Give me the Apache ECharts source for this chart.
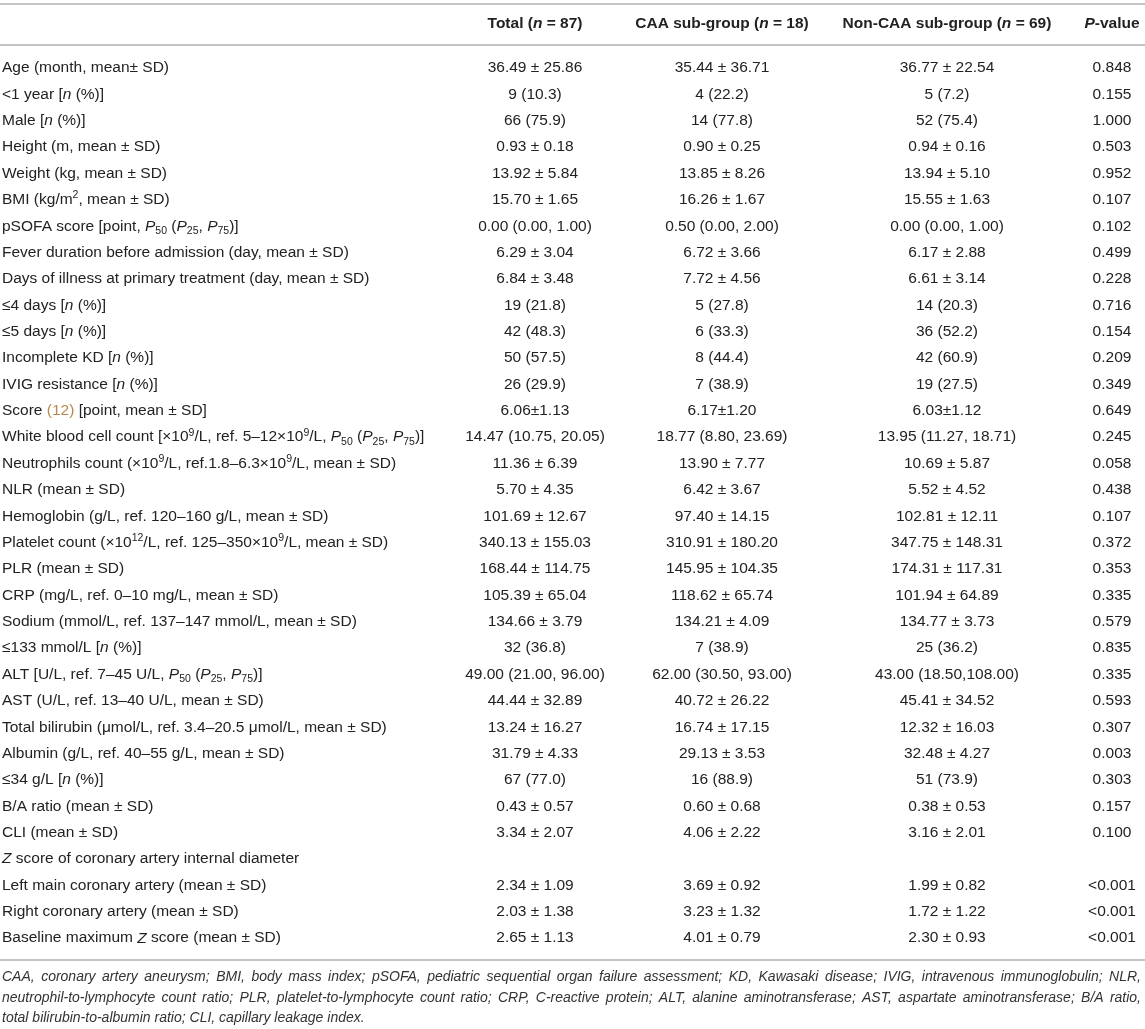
<!DOCTYPE html>
<html lang="en">
<head>
  <meta charset="UTF-8">
  <title>Baseline characteristics, CAA vs non-CAA</title>
  <style>
    html, body { margin: 0; padding: 0; background: #fff; }
    #main { width: 1145px; height: 1029px; }
  </style>
</head>
<body>
  <div id="main"></div>
  <script src="https://cdn.jsdelivr.net/npm/echarts@6/dist/echarts.min.js"></script>
  <script>
    // ---- table content (rich tags: {i|..} italic, {sup|..}, {sub|..}, {ref|..}) ----
    const headers = ['', 'Total ({i|n} = 87)', 'CAA sub-group ({i|n} = 18)', 'Non-CAA sub-group ({i|n} = 69)', '{i|P}-value']

    const rowLabels = [
      'Age (month, mean\u00b1 SD)',
      '<1 year [{i|n} (%)]',
      'Male [{i|n} (%)]',
      'Height (m, mean \u00b1 SD)',
      'Weight (kg, mean \u00b1 SD)',
      'BMI (kg/m{sup|2}, mean \u00b1 SD)',
      'pSOFA score [point, {i|P}{sub|50} ({i|P}{sub|25}, {i|P}{sub|75})]',
      'Fever duration before admission (day, mean \u00b1 SD)',
      'Days of illness at primary treatment (day, mean \u00b1 SD)',
      '\u22644 days [{i|n} (%)]',
      '\u22645 days [{i|n} (%)]',
      'Incomplete KD [{i|n} (%)]',
      'IVIG resistance [{i|n} (%)]',
      'Score {ref|(12)} [point, mean \u00b1 SD]',
      'White blood cell count [\u00d710{sup|9}/L, ref. 5\u201312\u00d710{sup|9}/L, {i|P}{sub|50} ({i|P}{sub|25}, {i|P}{sub|75})]',
      'Neutrophils count (\u00d710{sup|9}/L, ref.1.8\u20136.3\u00d710{sup|9}/L, mean \u00b1 SD)',
      'NLR (mean \u00b1 SD)',
      'Hemoglobin (g/L, ref. 120\u2013160 g/L, mean \u00b1 SD)',
      'Platelet count (\u00d710{sup|12}/L, ref. 125\u2013350\u00d710{sup|9}/L, mean \u00b1 SD)',
      'PLR (mean \u00b1 SD)',
      'CRP (mg/L, ref. 0\u201310 mg/L, mean \u00b1 SD)',
      'Sodium (mmol/L, ref. 137\u2013147 mmol/L, mean \u00b1 SD)',
      '\u2264133 mmol/L [{i|n} (%)]',
      'ALT [U/L, ref. 7\u201345 U/L, {i|P}{sub|50} ({i|P}{sub|25}, {i|P}{sub|75})]',
      'AST (U/L, ref. 13\u201340 U/L, mean \u00b1 SD)',
      'Total bilirubin (\u03bcmol/L, ref. 3.4\u201320.5 \u03bcmol/L, mean \u00b1 SD)',
      'Albumin (g/L, ref. 40\u201355 g/L, mean \u00b1 SD)',
      '\u226434 g/L [{i|n} (%)]',
      'B/A ratio (mean \u00b1 SD)',
      'CLI (mean \u00b1 SD)',
      '{i|Z} score of coronary artery internal diameter',
      'Left main coronary artery (mean \u00b1 SD)',
      'Right coronary artery (mean \u00b1 SD)',
      'Baseline maximum {i|Z} score (mean \u00b1 SD)'
    ]

    const totalCol = [
      '36.49 \u00b1 25.86', '9 (10.3)', '66 (75.9)', '0.93 \u00b1 0.18', '13.92 \u00b1 5.84',
      '15.70 \u00b1 1.65', '0.00 (0.00, 1.00)', '6.29 \u00b1 3.04', '6.84 \u00b1 3.48', '19 (21.8)',
      '42 (48.3)', '50 (57.5)', '26 (29.9)', '6.06\u00b11.13', '14.47 (10.75, 20.05)',
      '11.36 \u00b1 6.39', '5.70 \u00b1 4.35', '101.69 \u00b1 12.67', '340.13 \u00b1 155.03', '168.44 \u00b1 114.75',
      '105.39 \u00b1 65.04', '134.66 \u00b1 3.79', '32 (36.8)', '49.00 (21.00, 96.00)', '44.44 \u00b1 32.89',
      '13.24 \u00b1 16.27', '31.79 \u00b1 4.33', '67 (77.0)', '0.43 \u00b1 0.57', '3.34 \u00b1 2.07',
      '', '2.34 \u00b1 1.09', '2.03 \u00b1 1.38', '2.65 \u00b1 1.13'
    ]

    const caaCol = [
      '35.44 \u00b1 36.71', '4 (22.2)', '14 (77.8)', '0.90 \u00b1 0.25', '13.85 \u00b1 8.26',
      '16.26 \u00b1 1.67', '0.50 (0.00, 2.00)', '6.72 \u00b1 3.66', '7.72 \u00b1 4.56', '5 (27.8)',
      '6 (33.3)', '8 (44.4)', '7 (38.9)', '6.17\u00b11.20', '18.77 (8.80, 23.69)',
      '13.90 \u00b1 7.77', '6.42 \u00b1 3.67', '97.40 \u00b1 14.15', '310.91 \u00b1 180.20', '145.95 \u00b1 104.35',
      '118.62 \u00b1 65.74', '134.21 \u00b1 4.09', '7 (38.9)', '62.00 (30.50, 93.00)', '40.72 \u00b1 26.22',
      '16.74 \u00b1 17.15', '29.13 \u00b1 3.53', '16 (88.9)', '0.60 \u00b1 0.68', '4.06 \u00b1 2.22',
      '', '3.69 \u00b1 0.92', '3.23 \u00b1 1.32', '4.01 \u00b1 0.79'
    ]

    const nonCaaCol = [
      '36.77 \u00b1 22.54', '5 (7.2)', '52 (75.4)', '0.94 \u00b1 0.16', '13.94 \u00b1 5.10',
      '15.55 \u00b1 1.63', '0.00 (0.00, 1.00)', '6.17 \u00b1 2.88', '6.61 \u00b1 3.14', '14 (20.3)',
      '36 (52.2)', '42 (60.9)', '19 (27.5)', '6.03\u00b11.12', '13.95 (11.27, 18.71)',
      '10.69 \u00b1 5.87', '5.52 \u00b1 4.52', '102.81 \u00b1 12.11', '347.75 \u00b1 148.31', '174.31 \u00b1 117.31',
      '101.94 \u00b1 64.89', '134.77 \u00b1 3.73', '25 (36.2)', '43.00 (18.50,108.00)', '45.41 \u00b1 34.52',
      '12.32 \u00b1 16.03', '32.48 \u00b1 4.27', '51 (73.9)', '0.38 \u00b1 0.53', '3.16 \u00b1 2.01',
      '', '1.99 \u00b1 0.82', '1.72 \u00b1 1.22', '2.30 \u00b1 0.93'
    ]

    const pValues = [
      '0.848', '0.155', '1.000', '0.503', '0.952', '0.107', '0.102', '0.499', '0.228', '0.716',
      '0.154', '0.209', '0.349', '0.649', '0.245', '0.058', '0.438', '0.107', '0.372', '0.353',
      '0.335', '0.579', '0.835', '0.335', '0.593', '0.307', '0.003', '0.303', '0.157', '0.100',
      '', '<0.001', '<0.001', '<0.001'
    ]

    const footnote = [
      'CAA, coronary artery aneurysm; BMI, body mass index; pSOFA, pediatric sequential organ failure assessment; KD, Kawasaki disease; IVIG, intravenous immunoglobulin; NLR,',
      'neutrophil-to-lymphocyte count ratio; PLR, platelet-to-lymphocyte count ratio; CRP, C-reactive protein; ALT, alanine aminotransferase; AST, aspartate aminotransferase; B/A ratio,',
      'total bilirubin-to-albumin ratio; CLI, capillary leakage index.'
    ]

    // ---- layout ----
    const W = 1145
    const FAM = '"Liberation Sans", Arial, Helvetica, sans-serif'
    const INK = '#222'
    const RULE = '#c4c4c4'
    const BODY = 15.5
    const colX = [2, 535, 722, 947, 1112]
    const rowH = 26.37
    const firstRowY = 68
    const headerY = 24
    const rules = [4, 45, 960]
    const footY = [977, 998, 1018]
    const footLeft = 2, footRight = 1141
    const footFont = 'italic normal 14px ' + FAM

    function richSet(weight, size) {
      const f = (st, sz) => st + ' ' + weight + ' ' + sz + 'px ' + FAM
      return {
        i: { font: f('italic', size), fill: INK },
        sup: { font: f('normal', 10.5), fill: INK, lineHeight: 11, verticalAlign: 'top' },
        sub: { font: f('normal', 10.5), fill: INK, lineHeight: 11, verticalAlign: 'bottom' },
        ref: { font: f('normal', size), fill: '#b58a4e' }
      }
    }
    const bodyRich = richSet('normal', BODY)
    const headRich = richSet('bold', BODY)

    const columns = [rowLabels, totalCol, caaCol, nonCaaCol, pValues]
    const cells = []
    columns.forEach((col, c) => {
      col.forEach((txt, r) => {
        if (txt !== '') cells.push({ value: [colX[c], r], text: txt, align: c === 0 ? 'left' : 'center' })
      })
    })

    const myChart = echarts.init(document.getElementById('main'), null, { renderer: 'canvas' })

    const graphics = []
    rules.forEach(y => {
      graphics.push({ type: 'line', silent: true, shape: { x1: 0, y1: y, x2: W, y2: y }, style: { stroke: RULE, lineWidth: 2 } })
    })
    headers.forEach((h, c) => {
      if (!h) return
      graphics.push({
        type: 'text', x: colX[c], y: headerY,
        style: { text: h, font: 'normal bold ' + BODY + 'px ' + FAM, fill: INK, align: 'center', verticalAlign: 'middle', lineHeight: 20, rich: headRich }
      })
    })

    // footnote: justified like the journal layout (last line left aligned)
    const ctx = document.createElement('canvas').getContext('2d')
    ctx.font = footFont
    footnote.forEach((line, k) => {
      const words = line.split(' ')
      const last = k === footnote.length - 1
      let gap = ctx.measureText(' ').width
      if (!last) {
        const wordsW = words.reduce((s, w) => s + ctx.measureText(w).width, 0)
        gap = (footRight - footLeft - wordsW) / (words.length - 1)
      }
      let x = footLeft
      words.forEach(w => {
        graphics.push({
          type: 'text', x: x, y: footY[k], silent: true,
          style: { text: w, font: footFont, fill: '#333', align: 'left', verticalAlign: 'middle' }
        })
        x += ctx.measureText(w).width + gap
      })
    })

    const option = {
      animation: false,
      grid: { left: 0, right: 0, top: firstRowY - rowH / 2, height: rowH * rowLabels.length },
      xAxis: { type: 'value', min: 0, max: W, show: false },
      yAxis: { type: 'category', inverse: true, data: rowLabels.map((_, i) => 'r' + i), show: false },
      graphic: graphics,
      series: [{
        type: 'custom',
        silent: true,
        data: cells.map(d => d.value),
        encode: { x: 0, y: 1 },
        renderItem: function (params, api) {
          const cell = cells[params.dataIndex]
          const p = api.coord([api.value(0), api.value(1)])
          return {
            type: 'text',
            x: p[0], y: p[1],
            style: {
              text: cell.text,
              font: 'normal normal ' + BODY + 'px ' + FAM,
              fill: INK,
              align: cell.align,
              verticalAlign: 'middle',
              lineHeight: 20,
              rich: bodyRich
            }
          }
        }
      }]
    }

    myChart.setOption(option)
  </script>
</body>
</html>
